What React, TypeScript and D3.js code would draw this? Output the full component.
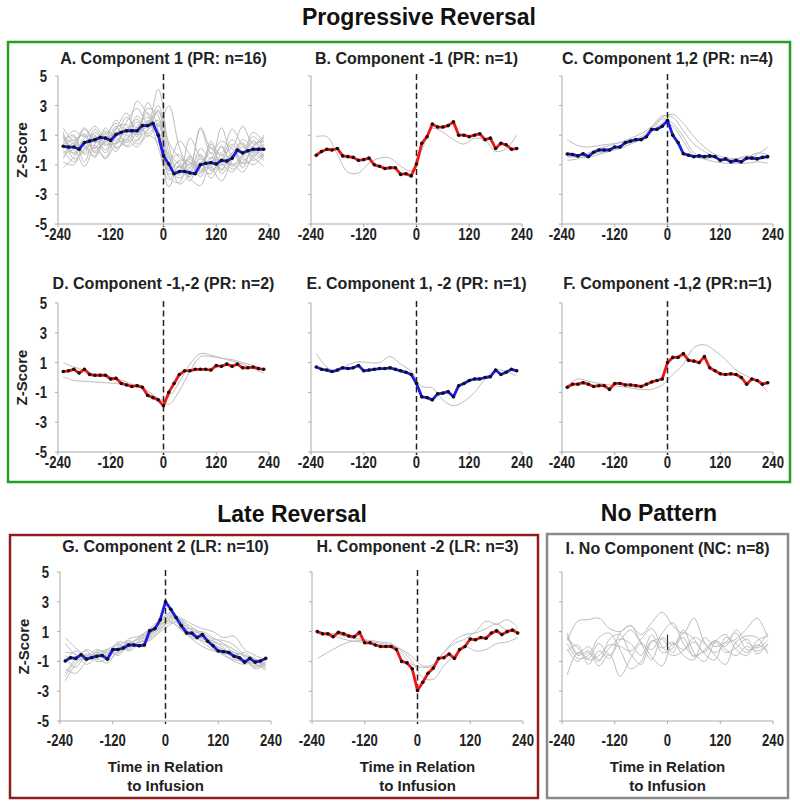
import React from "react";
import * as d3 from "d3";

// ---------- data ----------
const TIME_MEAN = [-228,-216,-204,-192,-180,-168,-156,-144,-132,-120,-108,-96,-84,-72,-60,-48,-36,-24,-12,0,12,24,36,48,60,72,84,96,108,120,132,144,156,168,180,192,204,216,228];
const TIME_TRACE = [-228,-204,-180,-156,-132,-108,-84,-60,-36,-12,12,36,60,84,108,132,156,180,204,228];
const X_TICKS = [-240, -120, 0, 120, 240];
const Y_TICKS = [5, 3, 1, -1, -3, -5];

const A_MEAN = [0.25,0.2,0.2,0.05,0.5,0.6,0.7,0.85,0.8,0.65,1.05,1.2,1.3,1.3,1.3,1.65,1.65,1.8,1.0,-0.4,-0.95,-1.6,-1.45,-1.45,-1.55,-1.6,-1.0,-0.9,-0.85,-0.95,-0.7,-0.75,-0.55,0.0,-0.2,-0.05,0.05,0.05,0.05];
const A_TRACES = [
  [0.8,0.2,1.4,0.5,1.0,1.8,1.2,2.3,1.5,2.6,-0.5,-1.2,-0.6,-1.5,0.2,-0.9,-0.2,0.5,-0.4,0.3],
  [-0.6,0.5,-0.2,1.2,0.3,1.4,2.5,1.0,3.2,1.4,-1.4,-0.8,-2.1,-0.4,-1.2,0.3,-1.0,-0.3,0.6,-0.5],
  [1.2,-0.3,0.6,0.1,1.5,0.6,1.9,2.8,1.8,4.1,0.3,-1.7,-0.9,-1.8,-0.5,-1.3,-0.3,-0.9,0.2,0.8],
  [0.1,0.9,-0.8,0.8,-0.2,1.2,0.5,1.6,2.2,0.8,-2.5,-1.0,-1.4,0.1,-0.6,1.5,-0.4,0.4,-0.7,-0.2],
  [-1.2,-0.5,0.3,-0.5,0.6,-0.1,1.0,0.4,1.3,2.0,-1.8,-2.2,-0.5,-1.2,-1.6,-0.3,-1.3,-0.8,-0.1,-0.6],
  [0.5,1.3,0.9,1.6,0.8,2.0,1.3,3.3,2.4,1.6,3.0,0.2,-1.2,1.4,-0.2,0.6,0.2,1.6,0.4,1.0],
  [0.0,-0.8,0.1,0.3,-0.6,0.4,0.7,0.2,1.0,0.5,-0.3,-1.0,-1.8,-0.8,-1.9,-1.0,-1.5,-0.6,-1.0,-0.3],
  [1.5,0.6,1.1,-0.2,0.7,1.0,2.2,1.5,2.8,2.3,-0.9,0.6,-0.3,-1.1,0.4,-0.4,0.7,-0.1,0.9,0.2],
  [-0.4,0.0,-1.1,0.4,1.1,0.2,0.6,1.9,1.1,1.8,-1.3,-1.6,0.8,-0.5,-1.1,-2.1,-0.7,0.2,-0.5,-1.1],
  [0.3,-0.2,0.8,1.0,0.0,1.5,1.7,0.9,2.0,0.2,-2.0,-1.1,-1.9,-2.4,-0.8,-0.6,0.1,-1.2,0.3,0.6],
  [0.9,0.4,0.2,-0.4,1.2,0.8,0.3,1.2,1.6,3.0,0.5,-0.5,-1.0,1.5,0.1,-0.2,1.4,0.3,-0.2,-0.7],
  [-0.8,-1.0,0.5,0.9,0.4,0.5,1.4,0.6,1.9,1.3,-1.1,-1.9,-1.2,-0.3,-1.4,-1.0,-0.9,-1.5,-0.3,0.4],
  [0.6,1.0,-0.3,0.2,-0.5,0.9,1.1,2.1,0.9,1.7,-0.6,-0.3,-1.5,-0.9,-0.2,-1.6,-0.5,0.7,0.1,-0.4],
  [-0.2,0.3,1.5,0.6,1.3,0.1,0.8,1.4,2.5,0.9,-1.6,-1.4,-0.4,-1.4,-0.9,0.2,-1.1,-0.4,1.2,0.5],
  [1.0,-0.6,0.0,1.4,0.5,1.6,0.2,0.7,1.4,2.7,-0.2,-2.3,-1.6,-0.6,-1.3,-0.8,0.4,-0.9,-0.6,0.9],
  [0.4,0.7,1.0,-0.1,0.9,0.4,1.5,1.1,1.7,1.0,-1.4,-0.7,-0.8,-1.6,0.6,-1.4,-0.2,-0.5,0.6,-0.1],
];

const B_MEAN = [-0.35,-0.1,0.05,0.0,0.1,-0.4,-0.45,-0.5,-0.7,-0.65,-0.55,-1.0,-1.1,-1.25,-1.2,-1.2,-1.65,-1.6,-1.75,-0.95,0.45,0.9,1.75,1.55,1.55,1.65,1.9,1.0,1.0,0.9,1.0,1.1,0.7,0.8,0.1,0.45,0.35,0.05,0.1];
const B_TRACES = [
  [0.9,0.9,-0.3,-1.5,-1.55,-0.9,-0.55,-0.55,-1.1,-1.4,0.0,1.45,1.2,0.7,0.4,0.8,0.65,-0.1,0.1,1.0],
];

const C_MEAN = [-0.27,-0.3,-0.4,-0.25,-0.45,-0.15,0.0,0.0,0.0,0.2,0.2,0.5,0.6,0.7,0.7,0.9,1.4,1.4,1.6,2.0,1.0,0.5,-0.25,-0.35,-0.45,-0.4,-0.45,-0.4,-0.45,-0.7,-0.6,-0.8,-0.7,-0.8,-0.55,-0.55,-0.6,-0.5,-0.45];
const C_TRACES = [
  [0.7,0.3,0.2,0.3,0.4,0.5,0.8,1.1,1.6,2.3,2.2,1.3,0.4,-0.1,-0.5,-0.7,-0.8,-0.6,-0.3,0.2],
  [-0.7,-0.6,-0.3,-0.2,0.0,0.3,0.5,0.8,1.3,2.1,1.8,0.9,-0.2,-0.6,-0.8,-0.9,-0.9,-0.9,-0.8,-0.9],
  [-0.5,-0.4,-0.2,0.1,0.3,0.5,0.6,0.9,1.5,2.2,2.4,1.8,0.9,0.2,-0.3,-0.5,-0.6,-0.5,-0.2,-0.3],
  [-0.4,-0.5,-0.5,-0.3,-0.1,0.1,0.4,0.7,1.2,1.8,1.6,0.6,-0.4,-0.6,-0.5,-0.7,-0.6,-0.4,-0.5,-0.6],
];

const D_MEAN = [0.4,0.45,0.55,0.3,0.55,0.2,0.15,0.15,0.15,-0.1,-0.05,-0.4,-0.5,-0.6,-0.55,-0.65,-1.2,-1.35,-1.5,-1.9,-1.0,-0.4,0.2,0.45,0.45,0.55,0.55,0.55,0.5,0.8,0.75,0.9,0.75,0.9,0.65,0.65,0.7,0.6,0.55];
const D_TRACES = [
  [1.0,0.7,0.5,0.2,0.1,-0.1,-0.3,-0.6,-0.9,-1.5,-1.3,-0.3,0.9,1.6,1.5,1.3,1.2,1.0,0.8,0.5],
  [0.05,-0.2,-0.25,-0.3,-0.35,-0.4,-0.5,-0.6,-0.9,-1.4,-1.8,-0.9,0.4,1.4,1.4,1.3,1.1,0.9,0.6,0.3],
];

const E_MEAN = [0.7,0.55,0.5,0.4,0.5,0.65,0.6,0.65,0.8,0.45,0.5,0.55,0.6,0.6,0.65,0.55,0.45,0.35,0.2,-0.4,-1.3,-1.35,-1.5,-1.1,-1.05,-0.95,-1.3,-0.55,-0.4,-0.2,-0.1,-0.1,0.0,0.05,0.5,0.2,0.35,0.55,0.45];
const E_TRACES = [
  [1.6,0.7,0.4,0.85,1.05,1.0,1.0,1.4,0.9,0.4,-0.6,-0.7,-1.5,-1.9,-1.6,-1.0,-0.1,0.5,0.4,0.1],
];

const F_MEAN = [-0.65,-0.45,-0.45,-0.35,-0.45,-0.6,-0.55,-0.55,-0.8,-0.4,-0.4,-0.5,-0.5,-0.55,-0.6,-0.45,-0.3,-0.2,-0.1,1.0,1.35,1.35,1.6,1.15,1.1,1.0,1.4,0.65,0.45,0.25,0.2,0.25,0.2,0.0,-0.45,-0.1,-0.2,-0.45,-0.35];
const F_TRACES = [
  [-0.55,-0.1,-0.25,-0.4,-0.5,-0.6,-0.7,-0.8,-0.8,-0.5,0.2,0.9,2.0,2.2,1.8,1.2,0.5,0.1,-0.3,-0.95],
];

const G_MEAN = [-0.97,-0.75,-0.8,-0.55,-0.85,-0.75,-0.65,-0.6,-0.85,-0.2,-0.2,-0.1,0.1,0.1,0.05,0.1,1.05,1.2,1.8,3.0,2.5,1.95,1.4,0.9,0.9,0.6,0.8,0.35,0.05,-0.3,-0.35,-0.4,-0.65,-0.75,-1.05,-0.8,-1.05,-0.97,-0.8];
const G_TRACES = [
  [-1.0,-0.3,-0.8,-0.4,-0.6,-0.1,0.2,0.5,0.9,1.5,2.0,1.6,1.1,0.8,0.3,0.1,-0.4,-0.9,-1.2,-1.4],
  [-2.3,-1.2,-0.6,-0.9,-0.3,-0.4,0.0,0.3,0.6,1.3,1.8,1.3,0.6,0.4,0.0,-0.6,-0.9,-1.0,-1.3,-1.1],
  [0.6,-0.1,-0.6,-0.2,-0.5,0.3,0.2,0.6,1.0,1.7,2.1,1.9,1.5,1.2,1.0,0.6,0.7,-0.2,-0.6,-0.9],
  [-1.5,-1.8,-1.0,-0.6,-0.9,-0.3,0.3,0.0,0.7,1.2,1.6,1.1,0.5,0.0,-0.3,-0.5,-1.0,-1.2,-1.0,-1.5],
  [-0.4,-0.5,-1.2,-0.7,-0.2,0.1,-0.2,0.4,0.8,1.4,2.0,1.7,1.3,0.7,0.2,-0.2,-0.4,-0.6,-0.8,-1.2],
  [-1.8,-0.8,-0.3,-1.0,-0.8,0.0,0.4,0.1,0.5,1.1,1.9,1.5,0.9,1.0,0.6,0.2,-0.2,-0.7,-1.4,-1.0],
  [0.2,-0.6,-0.9,-0.3,-0.4,-0.5,0.5,0.7,1.2,1.8,2.2,1.4,0.8,0.3,-0.2,-0.4,-0.7,-1.1,-0.9,-1.3],
  [-0.8,-1.4,-0.5,-0.8,-1.1,-0.3,-0.1,0.3,0.4,1.0,1.5,1.8,1.0,0.5,0.4,-0.1,-0.6,-0.4,-1.1,-1.6],
  [-2.0,-1.0,-0.7,-0.5,-0.2,-0.6,0.1,0.6,1.1,1.5,1.7,1.2,1.2,0.9,0.5,0.4,0.1,-0.6,-1.0,-1.3],
  [-0.6,-0.9,-0.2,-0.6,-0.7,0.2,-0.3,0.2,0.8,1.6,2.3,1.7,0.7,0.6,0.1,-0.3,-0.8,-0.9,-1.5,-1.2],
];

const H_MEAN = [1.0,0.85,0.85,0.65,0.95,0.85,0.7,0.65,0.95,0.25,0.25,0.1,0.0,0.0,0.0,-0.2,-1.0,-1.1,-1.5,-2.95,-2.4,-1.8,-1.45,-0.8,-0.75,-0.5,-0.8,-0.2,0.0,0.5,0.45,0.6,0.55,0.9,1.05,0.8,1.0,1.1,0.9];
const H_TRACES = [
  [-0.8,-0.4,0.0,0.3,0.4,0.4,0.3,0.2,-0.3,-1.0,-2.1,-2.2,-1.3,-0.6,0.0,-0.3,-0.2,0.2,0.3,0.6],
  [1.0,0.9,0.8,0.6,0.5,0.4,0.2,0.1,-0.2,-0.7,-1.3,-1.2,-0.4,0.2,0.5,1.0,1.7,1.5,1.8,1.3],
  [0.9,0.8,0.6,0.4,0.3,0.2,0.1,0.0,-0.5,-1.2,-1.4,-1.3,-0.4,0.4,0.8,0.9,1.2,1.5,1.1,1.2],
];

const I_TRACES = [
  [0.4,1.7,1.8,1.9,1.2,1.0,1.4,0.8,1.6,2.3,1.4,0.9,1.9,0.3,-0.4,0.2,0.5,1.2,1.9,0.6],
  [-1.9,-0.4,-0.8,0.2,-0.6,0.4,1.1,0.2,-0.9,0.6,0.1,0.6,-0.7,-0.2,0.4,0.0,1.1,0.3,-0.1,0.4],
  [0.7,-0.6,-0.3,-1.0,0.5,0.8,-0.5,-1.2,0.3,0.5,-0.4,0.9,0.5,-0.5,-0.9,0.6,0.2,-0.4,0.1,-0.3],
  [-0.3,0.1,-1.2,-0.3,-0.8,0.9,1.4,0.3,-0.2,0.9,1.6,0.2,-0.6,-0.3,0.3,-0.4,-0.1,0.5,-0.5,0.2],
  [0.2,-0.8,-0.6,0.6,0.9,-0.2,-1.5,-1.0,0.4,-0.1,0.3,-0.6,-0.9,0.6,0.0,0.3,0.9,-0.2,0.0,0.9],
  [0.5,-0.1,-0.9,-0.6,0.1,0.0,-0.3,0.5,1.2,0.0,-0.6,-0.3,0.3,-0.4,0.4,-0.2,-0.6,0.0,-0.3,0.1],
  [-0.2,-1.0,-0.4,-1.3,-0.5,-2.0,-0.8,0.2,-0.7,-1.3,0.2,-0.2,0.6,0.2,-0.6,-1.2,0.3,0.7,0.6,-0.5],
  [0.9,-0.5,0.0,-0.9,-0.1,0.5,0.2,-0.6,0.8,-0.4,-0.1,1.1,-0.4,-1.0,0.3,0.8,-0.2,-0.6,0.4,0.7],
];
const I_MARK = [0.8, -0.25];

// ---------- styles ----------
const FONT = "'Liberation Sans', Arial, Helvetica, sans-serif";
const BLUE = "#1c1ce8";
const RED = "#f01414";
const GRAY = "#bdbdbd";
const AXIS = "#aaaaaa";
const PW = 211;

type Spec = {
  title: string;
  left: number;
  top: number;
  bottom: number;
  titleY: number;
  mean?: number[];
  color?: string;
  traces: number[][];
  yLabels: boolean;
  xTitle: boolean;
  labelOff: number;
  zx?: number;
  dashed: boolean;
  mark?: number[];
};

const ROW1 = { top: 76, bottom: 224, titleY: 63.5, labelOff: 16 };
const ROW2 = { top: 303, bottom: 452, titleY: 288.5, labelOff: 16 };
const ROW3 = { top: 572, bottom: 721, titleY: 552, labelOff: 25 };

const PANELS: Spec[] = [
  { title: "A. Component 1 (PR: n=16)", left: 58, ...ROW1, mean: A_MEAN, color: BLUE, traces: A_TRACES, yLabels: true, xTitle: false, zx: 22, dashed: true },
  { title: "B. Component -1 (PR: n=1)", left: 311, ...ROW1, mean: B_MEAN, color: RED, traces: B_TRACES, yLabels: false, xTitle: false, dashed: true },
  { title: "C. Component 1,2 (PR: n=4)", left: 562, ...ROW1, mean: C_MEAN, color: BLUE, traces: C_TRACES, yLabels: false, xTitle: false, dashed: true },
  { title: "D. Component -1,-2 (PR: n=2)", left: 58, ...ROW2, mean: D_MEAN, color: RED, traces: D_TRACES, yLabels: true, xTitle: false, zx: 22, dashed: true },
  { title: "E. Component 1, -2 (PR: n=1)", left: 311, ...ROW2, mean: E_MEAN, color: BLUE, traces: E_TRACES, yLabels: false, xTitle: false, dashed: true },
  { title: "F. Component -1,2 (PR:n=1)", left: 562, ...ROW2, mean: F_MEAN, color: RED, traces: F_TRACES, yLabels: false, xTitle: false, dashed: true },
  { title: "G. Component 2 (LR: n=10)", left: 60, ...ROW3, mean: G_MEAN, color: BLUE, traces: G_TRACES, yLabels: true, xTitle: true, zx: 24, dashed: true },
  { title: "H. Component -2 (LR: n=3)", left: 312, ...ROW3, mean: H_MEAN, color: RED, traces: H_TRACES, yLabels: false, xTitle: true, dashed: true },
  { title: "I. No Component (NC: n=8)", left: 562, ...ROW3, titleY: 554, traces: I_TRACES, yLabels: false, xTitle: true, dashed: false, mark: I_MARK },
];

function Panel({ p }: { p: Spec }) {
  const x = d3.scaleLinear().domain([-240, 240]).range([p.left, p.left + PW]);
  const y = d3.scaleLinear().domain([-5, 5]).range([p.bottom, p.top]);
  const traceLine = d3
    .line<number>()
    .x((_, i) => x(TIME_TRACE[i]))
    .y((d) => y(d))
    .curve(d3.curveCatmullRom.alpha(0.5));
  const meanLine = d3
    .line<number>()
    .x((_, i) => x(TIME_MEAN[i]))
    .y((d) => y(d));
  const cx = p.left + PW / 2;
  return (
    <g>
      <text x={cx} y={p.titleY} textAnchor="middle" fontFamily={FONT} fontWeight="bold" fontSize={16} fill="#222">
        {p.title}
      </text>
      {/* axes */}
      <line x1={p.left} x2={p.left} y1={p.top} y2={p.bottom} stroke={AXIS} strokeWidth={1} />
      <line x1={p.left} x2={p.left + PW} y1={p.bottom} y2={p.bottom} stroke={AXIS} strokeWidth={1} />
      {Y_TICKS.map((t) => (
        <line key={"yt" + t} x1={p.left - 3} x2={p.left} y1={y(t)} y2={y(t)} stroke={AXIS} />
      ))}
      {X_TICKS.map((t) => (
        <line key={"xt" + t} x1={x(t)} x2={x(t)} y1={p.bottom} y2={p.bottom + 3} stroke={AXIS} />
      ))}
      {p.yLabels &&
        Y_TICKS.map((t) => (
          <text
            key={"yl" + t}
            transform={`translate(${p.left - 11},${y(t) + 6}) scale(0.82,1)`}
            textAnchor="end"
            fontFamily={FONT}
            fontWeight="bold"
            fontSize={16}
            fill="#222"
          >
            {t}
          </text>
        ))}
      {X_TICKS.map((t) => (
        <text
          key={"xl" + t}
          transform={`translate(${x(t)},${p.bottom + p.labelOff}) scale(0.82,1)`}
          textAnchor="middle"
          fontFamily={FONT}
          fontWeight="bold"
          fontSize={16}
          fill="#222"
        >
          {t}
        </text>
      ))}
      {p.yLabels && (
        <text
          transform={`translate(${(p.zx ?? 22) + 5},${(p.top + p.bottom) / 2}) rotate(-90)`}
          textAnchor="middle"
          fontFamily={FONT}
          fontWeight="bold"
          fontSize={15}
          fill="#222"
        >
          Z-Score
        </text>
      )}
      {p.xTitle && (
        <g fontFamily={FONT} fontWeight="bold" fontSize={15} fill="#222" textAnchor="middle">
          <text x={cx} y={772}>Time in Relation</text>
          <text x={cx} y={791}>to Infusion</text>
        </g>
      )}
      {/* individual traces */}
      {p.traces.map((tr, i) => (
        <path key={"tr" + i} d={traceLine(tr) || ""} fill="none" stroke={GRAY} strokeWidth={1} />
      ))}
      {p.mark && (
        <line x1={x(0)} x2={x(0)} y1={y(p.mark[0])} y2={y(p.mark[1])} stroke="#333" strokeWidth={1.2} />
      )}
      {p.dashed && (
        <line x1={x(0)} x2={x(0)} y1={p.top - 2} y2={p.bottom + 3} stroke="#222" strokeWidth={1.5} strokeDasharray="6,3.5" />
      )}
      {p.mean && (
        <g>
          <path d={meanLine(p.mean) || ""} fill="none" stroke={p.color} strokeWidth={2.8} strokeLinejoin="round" />
          {p.mean.map((v, i) => (
            <circle key={"pt" + i} cx={x(TIME_MEAN[i])} cy={y(v)} r={1.8} fill="#111" />
          ))}
        </g>
      )}
    </g>
  );
}

export default function App() {
  return (
    <svg
      width={800}
      height={809}
      viewBox="0 0 800 809"
      style={{ position: "absolute", left: 0, top: 0, background: "#fff" }}
    >
      <rect x={0} y={0} width={800} height={809} fill="#fff" />
      <g fontFamily={FONT} fontWeight="bold" fontSize={23} fill="#111">
        <text x={302} y={25}>Progressive Reversal</text>
        <text x={292} y={522} textAnchor="middle">Late Reversal</text>
        <text x={659} y={521} textAnchor="middle">No Pattern</text>
      </g>
      <rect x={8} y={42} width={782} height={440} fill="none" stroke="#249f24" strokeWidth={2.5} />
      <rect x={10} y={535} width={528} height={263} fill="none" stroke="#8f1d1d" strokeWidth={2.5} />
      <rect x={547} y={534} width={241} height={264} fill="none" stroke="#8a8a8a" strokeWidth={2.5} />
      {PANELS.map((p) => (
        <Panel key={p.title} p={p} />
      ))}
    </svg>
  );
}
